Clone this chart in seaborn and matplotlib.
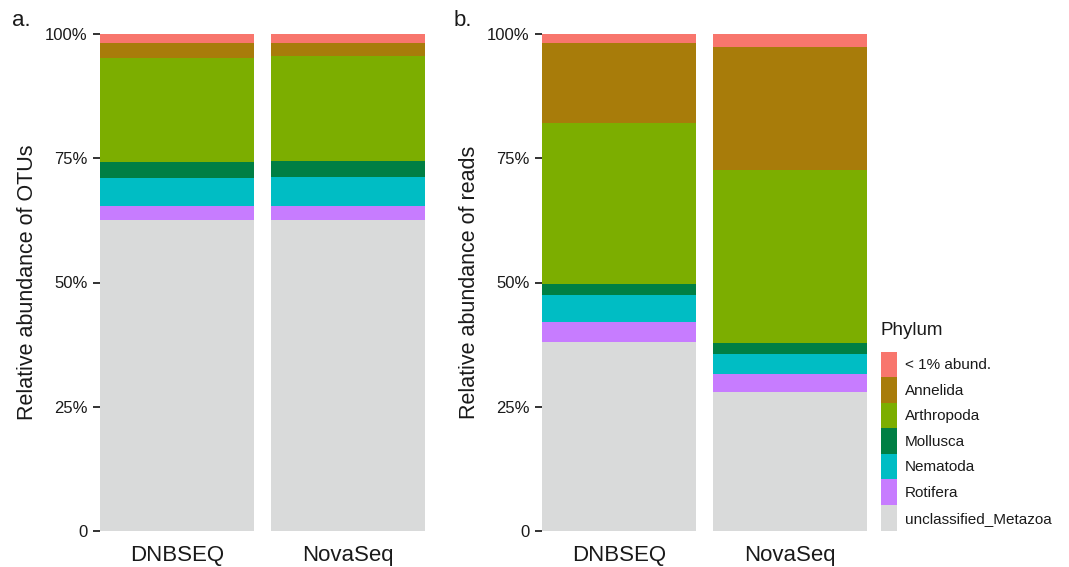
import numpy as np
import pandas as pd
import matplotlib
matplotlib.use("Agg")
import matplotlib.pyplot as plt
import seaborn as sns
from matplotlib.patches import Patch

# ---------------- data ----------------
platforms = ["DNBSEQ", "NovaSeq"]
phyla = ["< 1% abund.", "Annelida", "Arthropoda", "Mollusca",
         "Nematoda", "Rotifera", "unclassified_Metazoa"]
colors = ["#F8766D", "#A87C0A", "#7CAE00", "#007F44",
          "#00BDC4", "#C77CFF", "#D9DADA"]

# percentages, listed in phyla order (top of stack first)
otus_dnbseq = [1.9, 2.9, 21.0, 3.2, 5.6, 2.8, 62.6]
otus_novaseq = [1.8, 2.6, 21.1, 3.3, 5.8, 2.8, 62.6]
reads_dnbseq = [1.9, 16.1, 32.3, 2.2, 5.4, 4.0, 38.1]
reads_novaseq = [2.6, 24.8, 34.8, 2.2, 4.1, 3.6, 27.9]

y_ticks = [0, 25, 50, 75, 100]
y_tick_labels = ["0", "25%", "50%", "75%", "100%"]
panel_tags = ["a.", "b."]
y_titles = ["Relative abundance of OTUs", "Relative abundance of reads"]

# ---------------- style ----------------
sns.set_theme(style="white")
plt.rcParams["font.family"] = ["Liberation Sans", "DejaVu Sans"]
txt = "#1a1a1a"

W, H = 1069, 567
fig = plt.figure(figsize=(W / 100, H / 100), dpi=100)


def build_df(vals_by_platform):
    rows = []
    for plat, vals in zip(platforms, vals_by_platform):
        for i, ph in enumerate(phyla):
            rows.append({"platform": plat, "phylum": ph,
                         "value": vals[i], "cum": sum(vals[i:])})
    return pd.DataFrame(rows)


panels = [build_df([otus_dnbseq, otus_novaseq]),
          build_df([reads_dnbseq, reads_novaseq])]
lefts = [100, 542]
panel_w = 325
top, bottom = 34, 531

for k, (df, left) in enumerate(zip(panels, lefts)):
    ax = fig.add_axes([left / W, (H - bottom) / H, panel_w / W, (bottom - top) / H])
    for i, ph in enumerate(phyla):
        sub = df[df["phylum"] == ph]
        sns.barplot(data=sub, x="platform", y="cum", order=platforms,
                    color=colors[i], saturation=1, width=0.9,
                    linewidth=0, errorbar=None, ax=ax)
    ax.set_xlim(-0.45, 1.45)
    ax.set_ylim(0, 100)
    for s in ax.spines.values():
        s.set_visible(False)
    ax.set_yticks(y_ticks)
    ax.set_yticklabels(y_tick_labels, fontsize=12, color=txt)
    ax.tick_params(axis="y", left=True, length=5, width=1.3, color="#222222",
                   pad=4, direction="out")
    ax.tick_params(axis="x", bottom=False, length=0, pad=10, labelsize=16,
                   labelcolor=txt)
    ax.set_xlabel("")
    ax.set_ylabel(y_titles[k], fontsize=15.5, color=txt)
    ax.yaxis.set_label_coords(-0.19, 0.5)
    fig.text((left - 88) / W, 1 - 20 / H, panel_tags[k], fontsize=16,
             color=txt, va="center", ha="left")

handles = [Patch(facecolor=c, edgecolor="none", label=p) for p, c in zip(phyla, colors)]
leg = fig.legend(handles=handles, loc="upper left",
                 bbox_to_anchor=(881 / W, 1 - 322 / H),
                 frameon=False, fontsize=11, title="Phylum", title_fontsize=13.5,
                 handlelength=1.05, handleheight=2.2, labelspacing=0,
                 handletextpad=0.5, borderpad=0, borderaxespad=0,
                 alignment="left")
leg._legend_box.sep = 9
for t in leg.get_texts():
    t.set_color(txt)
leg.get_title().set_color(txt)

fig.savefig("out.png", dpi=100, facecolor="white")
